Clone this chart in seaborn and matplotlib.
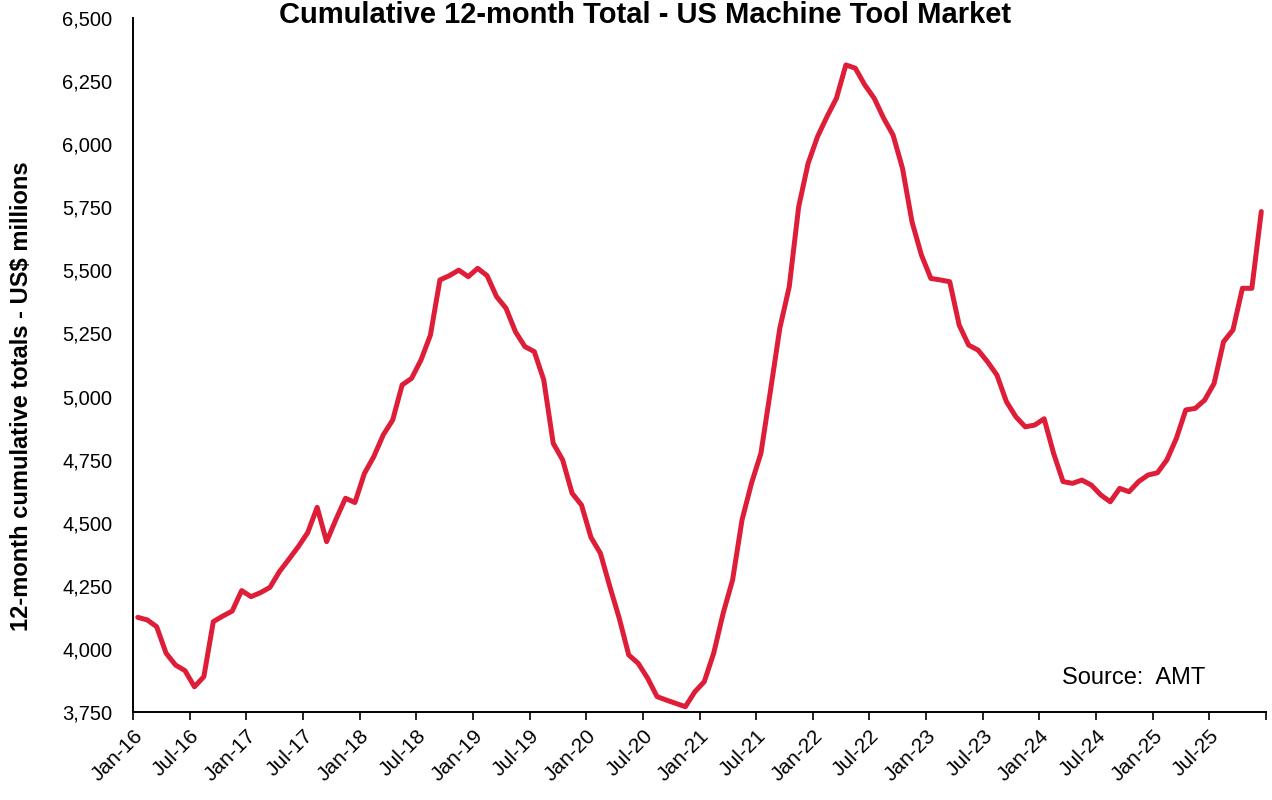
import numpy as np
import pandas as pd
import seaborn as sns
import matplotlib
import matplotlib.pyplot as plt

matplotlib.use('Agg')

# 月份（Jan-16 .. Dec-25）
months = pd.date_range('2016-01-01', periods=120, freq='MS').strftime('%b-%y').tolist()

# 12个月累计总额（百万美元）
totals = [
    4125, 4115, 4088, 3983, 3936, 3914, 3850, 3890, 4108, 4130,
    4150, 4231, 4207, 4223, 4244, 4306, 4355, 4405, 4461, 4561,
    4425, 4514, 4597, 4580, 4695, 4762, 4848, 4907, 5046, 5072,
    5145, 5244, 5462, 5479, 5501, 5475, 5508, 5479, 5396, 5350,
    5257, 5198, 5178, 5066, 4815, 4749, 4617, 4570, 4442, 4379,
    4247, 4121, 3976, 3943, 3884, 3811, 3797, 3784, 3771, 3830,
    3870, 3983, 4141, 4273, 4511, 4656, 4775, 5020, 5270, 5435,
    5752, 5924, 6030, 6109, 6182, 6314, 6301, 6235, 6182, 6103,
    6036, 5904, 5693, 5561, 5468, 5462, 5455, 5283, 5204, 5184,
    5138, 5085, 4980, 4920, 4880, 4887, 4912, 4775, 4663, 4656,
    4669, 4649, 4610, 4583, 4636, 4623, 4663, 4689, 4698, 4749,
    4834, 4947, 4953, 4986, 5052, 5217, 5264, 5429, 5429, 5733,
]

# x轴刻度标签（每6个月）
tick_labels = [f'{m}-{y}' for y in range(16, 26) for m in ('Jan', 'Jul')] + ['']
y_ticks = list(range(3750, 6501, 250))

df = pd.DataFrame({'month': months, 'total': totals})
df['pos'] = np.arange(len(df)) + 0.5

sns.set_theme(style='white')
plt.rcParams['font.family'] = ['Liberation Sans', 'DejaVu Sans']

fig = plt.figure(figsize=(12.72, 8.0), dpi=100)
ax = fig.add_axes([0.1046, 0.11, 0.8907, 0.8675])

sns.lineplot(data=df, x='pos', y='total', color='#DE1E38', linewidth=3.6, ax=ax)

ax.set_xlim(0, 120)
ax.set_ylim(3750, 6500)
ax.set_xticks(range(0, 121, 6))
ax.set_xticklabels(tick_labels, rotation=45, ha='right', rotation_mode='anchor', fontsize=15, color='black')
ax.set_yticks(y_ticks)
ax.set_yticklabels([f'{v:,}' for v in y_ticks], fontsize=14.5, color='black')
ax.tick_params(axis='x', direction='out', length=6, width=1.2, color='black', pad=4, bottom=True)
ax.tick_params(axis='y', length=0, pad=15)

for s in ['top', 'right']:
    ax.spines[s].set_visible(False)
for s in ['left', 'bottom']:
    ax.spines[s].set_color('black')
    ax.spines[s].set_linewidth(1.4)

ax.set_xlabel('')
ax.set_ylabel('12-month cumulative totals - US$ millions', fontsize=17, fontweight='bold', color='black')
ax.yaxis.set_label_coords(-0.088, 0.455)

ax.text(0.946, 0.049, 'Source:  AMT', transform=ax.transAxes, ha='right', va='center',
        fontsize=17, color='black')

fig.text(0.507, 1 - 1 / 800, 'Cumulative 12-month Total - US Machine Tool Market',
         ha='center', va='top', fontsize=21, fontweight='bold', color='black')

plt.savefig('out.png', dpi=100)
